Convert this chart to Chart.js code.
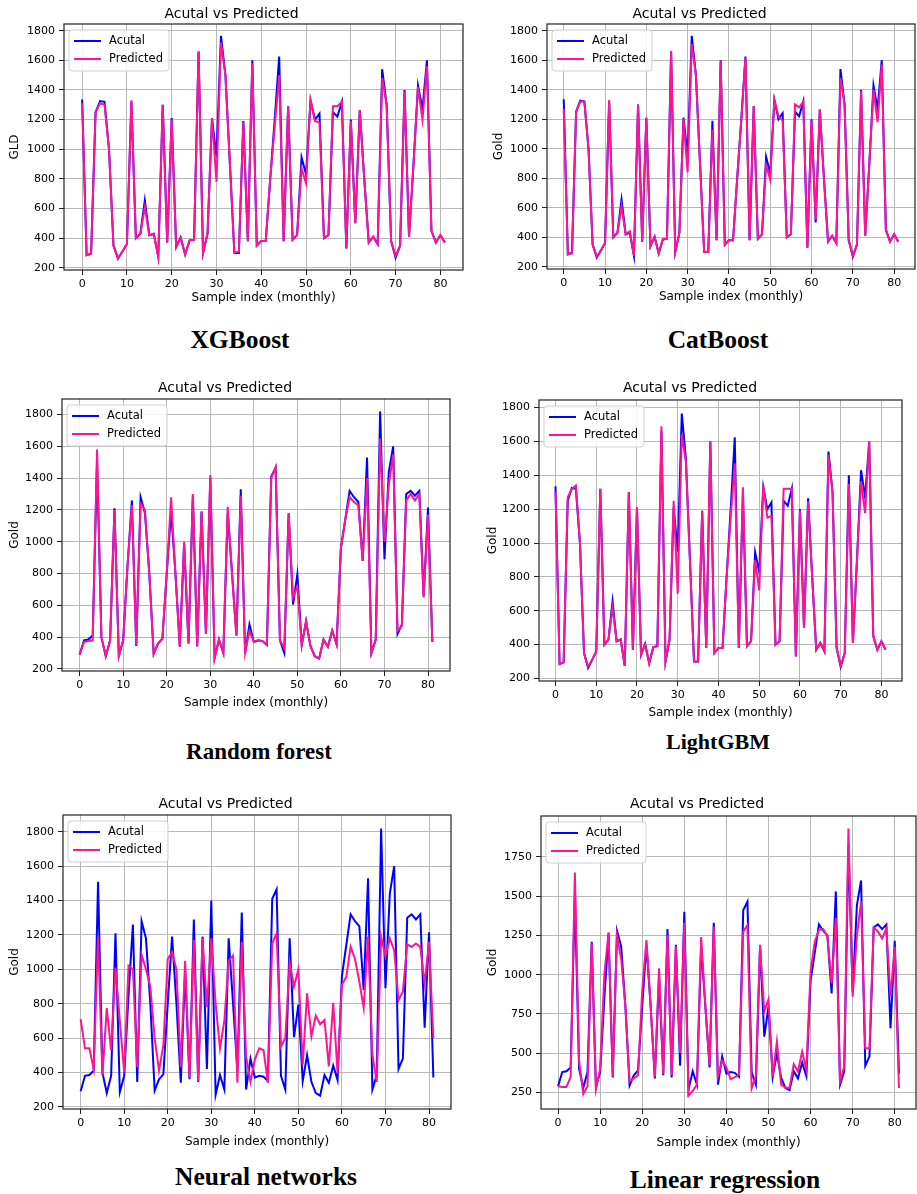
<!DOCTYPE html>
<html>
<head>
<meta charset="utf-8">
<script src="https://cdn.jsdelivr.net/npm/chart.js@4.4.0/dist/chart.umd.min.js"></script>
<style>
  html, body { margin: 0; padding: 0; background: #fff; }
  body { width: 917px; height: 1194px; position: relative; overflow: hidden; }
  .caption {
    position: absolute;
    font-family: "Liberation Serif", "Times New Roman", serif;
    font-weight: bold;
    color: #000;
    transform: translate(-50%, -50%);
    white-space: nowrap;
  }
</style>
</head>
<body>
<script>
// sample index 0..81 (monthly)
const sampleIdx = [0,1,2,3,4,5,6,7,8,9,10,11,12,13,14,15,16,17,18,19,20,21,22,23,24,25,26,27,28,29,
  30,31,32,33,34,35,36,37,38,39,40,41,42,43,44,45,46,47,48,49,50,51,52,53,54,55,56,57,58,59,
  60,61,62,63,64,65,66,67,68,69,70,71,72,73,74,75,76,77,78,79,80,81];

const xTicks = [0, 10, 20, 30, 40, 50, 60, 70, 80];
const yTicksGold = [200, 400, 600, 800, 1000, 1200, 1400, 1600, 1800];
const yTicksLinear = [250, 500, 750, 1000, 1250, 1500, 1750];

// boosting models test set (actual)
const actualA = [1335,285,295,1250,1325,1320,1000,350,262,310,360,1320,400,430,655,420,430,275,1300,370,
  1210,340,405,290,385,390,1660,300,430,1210,950,1765,1500,900,300,300,1190,380,1600,350,
  380,380,800,1200,1625,380,1290,390,420,945,830,1330,1200,1240,400,420,1250,1220,1320,330,
  1200,500,1265,800,370,410,360,1540,1300,380,268,350,1400,410,900,1430,1270,1600,450,370,420,370];

const predXgb = [1310,285,295,1250,1310,1300,1000,350,265,310,360,1330,400,430,610,420,430,275,1300,370,
  1200,340,400,290,385,390,1660,300,430,1210,780,1720,1500,900,300,310,1180,380,1580,350,
  380,380,800,1150,1500,380,1290,390,420,870,770,1330,1190,1180,400,420,1290,1290,1320,330,
  1190,500,1265,800,370,410,360,1480,1300,380,280,350,1390,410,900,1420,1200,1560,450,370,420,370];

const predCat = [1270,285,290,1250,1320,1320,1000,350,270,310,360,1330,400,430,610,420,440,275,1300,370,
  1210,340,400,290,385,390,1660,300,430,1200,840,1710,1500,900,300,300,1130,380,1590,350,
  380,380,800,1200,1620,380,1290,390,420,890,790,1330,1220,1190,400,420,1300,1280,1320,330,
  1190,520,1265,800,370,410,360,1480,1300,380,275,350,1390,410,900,1400,1180,1570,450,370,420,370];

const predLgbm = [1300,285,295,1270,1320,1340,1000,350,270,310,360,1320,400,430,620,420,430,275,1300,370,
  1210,340,400,290,385,390,1690,300,430,1250,700,1640,1480,900,300,300,1190,380,1600,350,
  380,380,800,1150,1470,380,1330,390,420,900,720,1340,1150,1160,400,420,1320,1320,1320,330,
  1190,500,1245,800,370,410,360,1520,1300,380,275,350,1350,410,900,1365,1176,1600,450,370,420,370];

// random forest / neural networks / linear regression test set (actual)
const actualB = [290,380,385,410,1510,400,280,380,1210,285,380,850,1260,345,1280,1180,800,295,360,390,
  800,1190,800,340,990,360,1290,345,1190,420,1400,270,385,300,1180,800,410,1330,300,480,
  370,380,375,350,1410,1465,380,300,1180,605,795,350,500,345,280,265,385,340,440,355,
  960,1140,1320,1280,1250,880,1530,300,385,1820,890,1440,1600,420,480,1300,1320,1290,1320,660,1215,370];

const predRf = [290,370,375,380,1580,400,280,380,1200,280,380,850,1230,350,1240,1200,800,295,360,390,
  800,1280,800,340,1000,360,1300,340,1190,420,1420,270,385,300,1220,800,410,1290,300,440,
  370,380,375,350,1400,1470,380,330,1180,650,720,350,500,345,280,265,385,340,440,355,
  960,1140,1280,1250,1230,880,1400,300,385,1650,1000,1360,1550,440,470,1260,1300,1260,1300,650,1170,370];

const predNn = [710,540,540,420,1190,380,775,530,1010,700,400,1020,1000,430,1085,1000,900,600,410,560,
  1060,1100,1000,430,1050,370,1170,350,1180,780,1180,800,540,700,1050,1080,340,1160,490,345,
  475,540,530,340,1150,1210,550,600,1040,900,1000,445,860,610,730,680,705,435,805,395,
  910,955,1130,1060,930,775,1190,500,345,1190,1075,1180,1110,820,870,1145,1130,1150,1130,915,1160,600];

const predLr = [290,285,285,350,1650,450,240,290,1200,270,400,1000,1270,350,1250,1100,800,320,340,360,
  900,1220,800,350,1040,370,1250,360,1180,500,1330,230,260,300,1240,800,426,1305,352,453,
  410,335,348,362,1274,1316,277,352,1190,765,843,350,574,300,282,278,430,384,510,394,
  1020,1210,1285,1290,1242,945,1360,320,415,1931,860,1242,1465,532,532,1300,1275,1230,1295,860,1178,278];

const BLUE = '#0000ff';
const PINK = '#ff1493';
const FONT = "'DejaVu Sans', sans-serif";

// panel layout: plot area [left, top, right, bottom] in page pixels
const panels = [
  {area: [64, 24, 463, 270],  yLab: 15,  titleY: 14,  xLabY: 298,  yName: 'GLD',  actual: actualA, pred: predXgb,  yMin: 185, yMax: 1845, yTicks: yTicksGold},
  {area: [547, 24, 915, 269], yLab: 499, titleY: 14,  xLabY: 297,  yName: 'Gold', actual: actualA, pred: predCat,  yMin: 185, yMax: 1845, yTicks: yTicksGold},
  {area: [62, 399, 450, 671], yLab: 15,  titleY: 388, xLabY: 703,  yName: 'Gold', actual: actualB, pred: predRf,   yMin: 187, yMax: 1898, yTicks: yTicksGold},
  {area: [539, 400, 902, 681], yLab: 493, titleY: 388, xLabY: 713, yName: 'Gold', actual: actualA, pred: predLgbm, yMin: 185, yMax: 1845, yTicks: yTicksGold},
  {area: [63, 815, 451, 1109], yLab: 15, titleY: 804, xLabY: 1142, yName: 'Gold', actual: actualB, pred: predNn,   yMin: 187, yMax: 1898, yTicks: yTicksGold},
  {area: [541, 816, 916, 1109], yLab: 493, titleY: 804, xLabY: 1143, yName: 'Gold', actual: actualB, pred: predLr, yMin: 145, yMax: 2010, yTicks: yTicksLinear}
];

const captions = [
  {text: 'XGBoost', x: 240, y: 340, size: 25.5},
  {text: 'CatBoost', x: 718, y: 340, size: 25.5},
  {text: 'Random forest', x: 259, y: 752, size: 23},
  {text: 'LightGBM', x: 718, y: 742, size: 22},
  {text: 'Neural networks', x: 266, y: 1177, size: 25.5},
  {text: 'Linear regression', x: 725, y: 1180, size: 25.5}
];

// box round the plot + legend in upper left, like matplotlib
const frameLegend = {
  id: 'frameLegend',
  afterDraw(chart) {
    const {ctx, chartArea: a} = chart;
    ctx.save();
    ctx.strokeStyle = '#222';
    ctx.lineWidth = 1.2;
    ctx.strokeRect(a.left, a.top, a.right - a.left, a.bottom - a.top);

    const bx = a.left + 5, by = a.top + 6, bw = 100, bh = 41, r = 3;
    ctx.beginPath();
    ctx.moveTo(bx + r, by);
    ctx.arcTo(bx + bw, by, bx + bw, by + bh, r);
    ctx.arcTo(bx + bw, by + bh, bx, by + bh, r);
    ctx.arcTo(bx, by + bh, bx, by, r);
    ctx.arcTo(bx, by, bx + bw, by, r);
    ctx.closePath();
    ctx.fillStyle = 'rgba(255,255,255,0.85)';
    ctx.fill();
    ctx.strokeStyle = '#d0d0d0';
    ctx.lineWidth = 1;
    ctx.stroke();

    ctx.font = '11.5px ' + FONT;
    ctx.textBaseline = 'middle';
    ctx.fillStyle = '#000';
    chart.data.datasets.forEach((ds, i) => {
      const ry = by + 11 + i * 18;
      ctx.beginPath();
      ctx.moveTo(bx + 5, ry);
      ctx.lineTo(bx + 32, ry);
      ctx.strokeStyle = ds.borderColor;
      ctx.lineWidth = 2;
      ctx.stroke();
      ctx.fillText(ds.label, bx + 40, ry);
    });
    ctx.restore();
  }
};

function makeChart(p) {
  const L = p.yLab - 15, T = p.titleY - 11;
  const R = p.area[2] + 2, B = Math.ceil(p.xLabY + 9.2);
  const cv = document.createElement('canvas');
  cv.width = R - L;
  cv.height = B - T;
  cv.style.cssText = 'position:absolute;left:' + L + 'px;top:' + T + 'px;';
  document.body.appendChild(cv);

  const yAxisW = p.area[0] - L;
  const xAxisH = B - p.area[3];

  new Chart(cv, {
    type: 'line',
    data: {
      datasets: [
        {label: 'Acutal', data: p.actual.map((v, i) => ({x: sampleIdx[i], y: v})),
         borderColor: BLUE, borderWidth: 2, pointRadius: 0, tension: 0, order: 2},
        {label: 'Predicted', data: p.pred.map((v, i) => ({x: sampleIdx[i], y: v})),
         borderColor: PINK, borderWidth: 2, pointRadius: 0, tension: 0, order: 1}
      ]
    },
    options: {
      responsive: false,
      animation: false,
      devicePixelRatio: 1,
      layout: {padding: {top: 4, left: 0, right: 2, bottom: 0}},
      plugins: {
        legend: {display: false},
        tooltip: {enabled: false},
        title: {
          display: true, text: 'Acutal vs Predicted', color: '#000',
          font: {family: FONT, size: 14, weight: 'normal', lineHeight: 1},
          padding: {top: 0, bottom: p.area[1] - p.titleY - 7}
        }
      },
      scales: {
        x: {
          type: 'linear', min: -4.05, max: 85.05,
          afterBuildTicks: s => { s.ticks = xTicks.map(v => ({value: v})); },
          afterFit: s => { s.height = xAxisH; },
          grid: {color: '#b8b8b8', lineWidth: 1, drawTicks: true, tickLength: 5, tickColor: '#222'},
          border: {display: false},
          ticks: {color: '#000', font: {family: FONT, size: 11}, padding: 3, maxRotation: 0, autoSkip: false,
                  callback: v => String(v)},
          title: {
            display: true, text: 'Sample index (monthly)', color: '#000',
            font: {family: FONT, size: 12, lineHeight: 1.2},
            padding: {top: 0, bottom: B - p.xLabY - 7.2}
          }
        },
        y: {
          min: p.yMin, max: p.yMax,
          afterBuildTicks: s => { s.ticks = p.yTicks.map(v => ({value: v})); },
          afterFit: s => { s.width = yAxisW; },
          grid: {color: '#b8b8b8', lineWidth: 1, drawTicks: true, tickLength: 5, tickColor: '#222'},
          border: {display: false},
          ticks: {color: '#000', font: {family: FONT, size: 11}, padding: 4, autoSkip: false,
                  callback: v => String(v)},
          title: {
            display: true, text: p.yName, color: '#000',
            font: {family: FONT, size: 12, lineHeight: 1.2},
            padding: {top: p.yLab - L - 7.2, bottom: 0}
          }
        }
      }
    },
    plugins: [frameLegend]
  });
}

panels.forEach(makeChart);

captions.forEach(c => {
  const d = document.createElement('div');
  d.className = 'caption';
  d.textContent = c.text;
  d.style.left = c.x + 'px';
  d.style.top = c.y + 'px';
  d.style.fontSize = c.size + 'px';
  document.body.appendChild(d);
});
</script>
</body>
</html>
